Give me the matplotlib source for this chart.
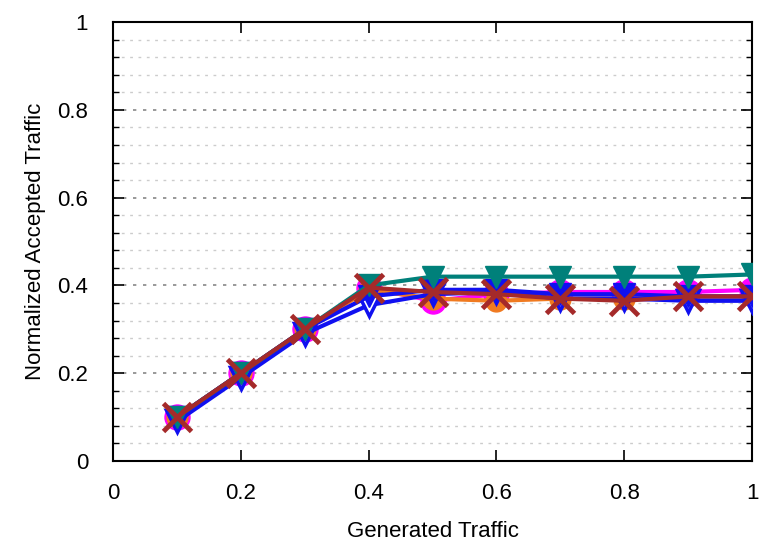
import numpy as np
import matplotlib
matplotlib.use("Agg")
import matplotlib.pyplot as plt
from matplotlib.ticker import MultipleLocator

plt.rcParams["font.family"] = ["Liberation Sans", "DejaVu Sans"]

x = [0.1, 0.2, 0.3, 0.4, 0.5, 0.6, 0.7, 0.8, 0.9, 1.0]
teal_tri  = [0.10, 0.20, 0.30, 0.400, 0.420, 0.420, 0.420, 0.420, 0.420, 0.425]
blue_tri  = [0.10, 0.20, 0.30, 0.375, 0.390, 0.390, 0.380, 0.380, 0.375, 0.375]
blue_open = [0.09, 0.19, 0.29, 0.355, 0.380, 0.385, 0.370, 0.370, 0.365, 0.365]
magenta   = [0.10, 0.20, 0.30, 0.395, 0.365, 0.380, 0.385, 0.385, 0.385, 0.390]
orange    = [0.10, 0.20, 0.30, 0.390, 0.370, 0.365, 0.370, 0.370, 0.375, 0.375]
brown_x   = [0.10, 0.20, 0.30, 0.395, 0.385, 0.380, 0.370, 0.365, 0.375, 0.375]
ticks = [0, 0.2, 0.4, 0.6, 0.8, 1.0]
tick_labels = ["0", "0.2", "0.4", "0.6", "0.8", "1"]

C_TEAL = "#00807a"
C_BLUE = "#1010f0"
C_MAG = "#ff00ff"
C_ORG = "#f07a20"
C_BRN = "#a52a2a"

fig = plt.figure(figsize=(7.81, 5.41), dpi=100)
ax = fig.add_axes([0.1447, 0.148, 0.8183, 0.811])

ax.plot(x, magenta, "-o", color=C_MAG, lw=3, ms=18, zorder=3)
ax.plot(x, orange, "-o", color=C_ORG, lw=3, ms=15, zorder=3)
ax.plot(x, blue_open, "-v", color=C_BLUE, lw=3, ms=16, mfc="white",
        mew=2.5, zorder=4)
ax.plot(x, blue_tri, "-v", color=C_BLUE, lw=3, ms=16, zorder=4)
ax.plot(x, teal_tri, "-v", color=C_TEAL, lw=3, ms=16, zorder=5)
ax.plot(x, brown_x, "-x", color=C_BRN, lw=3, ms=20, mew=3.5, zorder=6)

ax.set_xlim(0, 1)
ax.set_ylim(0, 1)
ax.set_xticks(ticks, tick_labels)
ax.set_yticks(ticks, tick_labels)
ax.yaxis.set_minor_locator(MultipleLocator(0.04))

ax.grid(axis="y", which="major", color="#888888", lw=1.2, ls=(0, (2, 4)))
ax.grid(axis="y", which="minor", color="#cccccc", lw=1.0, ls=(0, (2, 4)))
ax.set_axisbelow(True)

ax.tick_params(which="both", direction="in", top=True, right=True,
               labelsize=16)
ax.tick_params(axis="x", pad=16)
ax.tick_params(axis="y", pad=18)
ax.tick_params(which="major", length=8, width=1.2)
ax.tick_params(which="minor", length=4, width=1.0)
for s in ax.spines.values():
    s.set_linewidth(1.5)

ax.set_xlabel("Generated Traffic", fontsize=16, labelpad=12)
ax.set_ylabel("Normalized Accepted Traffic", fontsize=16, labelpad=8)

fig.savefig("out.png", dpi=100)
